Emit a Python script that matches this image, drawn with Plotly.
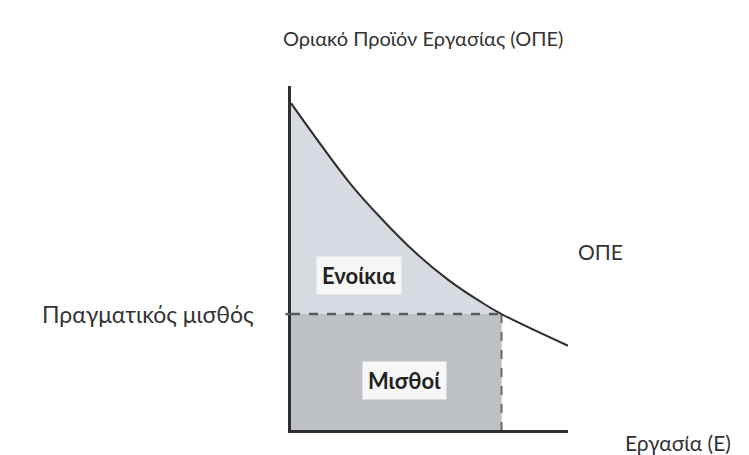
import plotly.graph_objects as go

# curva ΟΠΕ (eje x: trabajo, eje y: producto marginal)
ergasia = [0, 2.1, 3.2, 4.5, 5.7, 6.9, 7.6, 10]
ope = [9.5, 7.2, 6.2, 5.15, 4.35, 3.7, 3.37, 2.45]

misthos = 3.37      # salario real
ergasia_eq = 7.6    # empleo donde ΟΠΕ = salario

font_fam = "Lato, 'Open Sans', sans-serif"

fig = go.Figure()

# area de rentas: bajo la curva hasta el empleo de equilibrio
n = ergasia.index(ergasia_eq) + 1
fig.add_trace(go.Scatter(x=ergasia[:n], y=ope[:n], mode="lines",
                         line=dict(width=0, shape="spline"),
                         fill="tozeroy", fillcolor="#d7dbe1", hoverinfo="skip"))

# rectangulo de salarios
fig.add_trace(go.Scatter(x=[0, ergasia_eq, ergasia_eq, 0, 0],
                         y=[0, 0, misthos, misthos, 0], mode="lines",
                         line=dict(width=0), fill="toself", fillcolor="#bdc0c5",
                         hoverinfo="skip"))

# lineas punteadas
fig.add_trace(go.Scatter(x=[0, ergasia_eq], y=[misthos, misthos], mode="lines",
                         line=dict(color="#5a5a5a", width=2.5, dash="dash")))
fig.add_trace(go.Scatter(x=[ergasia_eq, ergasia_eq], y=[misthos, 0], mode="lines",
                         line=dict(color="#6a6a6a", width=2, dash="dash")))

# curva ΟΠΕ
fig.add_trace(go.Scatter(x=ergasia, y=ope, mode="lines",
                         line=dict(color="#2e2e2e", width=2, shape="spline")))

fig.update_layout(
    width=749, height=455,
    margin=dict(l=283, r=189, t=78, b=33),
    paper_bgcolor="white", plot_bgcolor="white",
    showlegend=False,
    font=dict(family=font_fam, color="#333333"),
    xaxis=dict(range=[0, 10], showgrid=False, zeroline=False, showticklabels=False,
               ticks="", showline=True, linecolor="#2e2e2e", linewidth=2.5),
    yaxis=dict(range=[0, 10], showgrid=False, zeroline=False, showticklabels=False,
               ticks="", showline=True, linecolor="#2e2e2e", linewidth=2.5),
)

# pequeño tramo punteado a la izquierda del eje
fig.add_shape(type="line", xref="paper", yref="y", x0=-0.02, x1=0, y0=misthos, y1=misthos,
              line=dict(color="#5a5a5a", width=2.5))

# textos
fig.add_annotation(text="Οριακό Προϊόν Εργασίας (ΟΠΕ)", xref="paper", yref="paper",
                   x=-0.035, y=1.14, xanchor="left", yanchor="middle",
                   showarrow=False, font=dict(size=20))
fig.add_annotation(text="Πραγματικός μισθός", xref="paper", yref="y",
                   x=-0.126, y=misthos, xanchor="right", yanchor="middle",
                   showarrow=False, font=dict(size=23))
fig.add_annotation(text="ΟΠΕ", xref="paper", yref="paper", x=1.03, y=0.52,
                   xanchor="left", yanchor="middle", showarrow=False, font=dict(size=21))
fig.add_annotation(text="Εργασία (Ε)", xref="paper", yref="paper", x=1.2, y=-0.036,
                   xanchor="left", yanchor="middle", showarrow=False, font=dict(size=21))
fig.add_annotation(text="<b>Ενοίκια</b>", x=2.45, y=4.5, showarrow=False,
                   bgcolor="#f6f6f6", borderpad=5, font=dict(size=22, color="#222222"))
fig.add_annotation(text="<b>Μισθοί</b>", x=4.1, y=1.45, showarrow=False,
                   bgcolor="#f6f6f6", borderpad=5, font=dict(size=22, color="#222222"))

fig.write_html("out.html")
